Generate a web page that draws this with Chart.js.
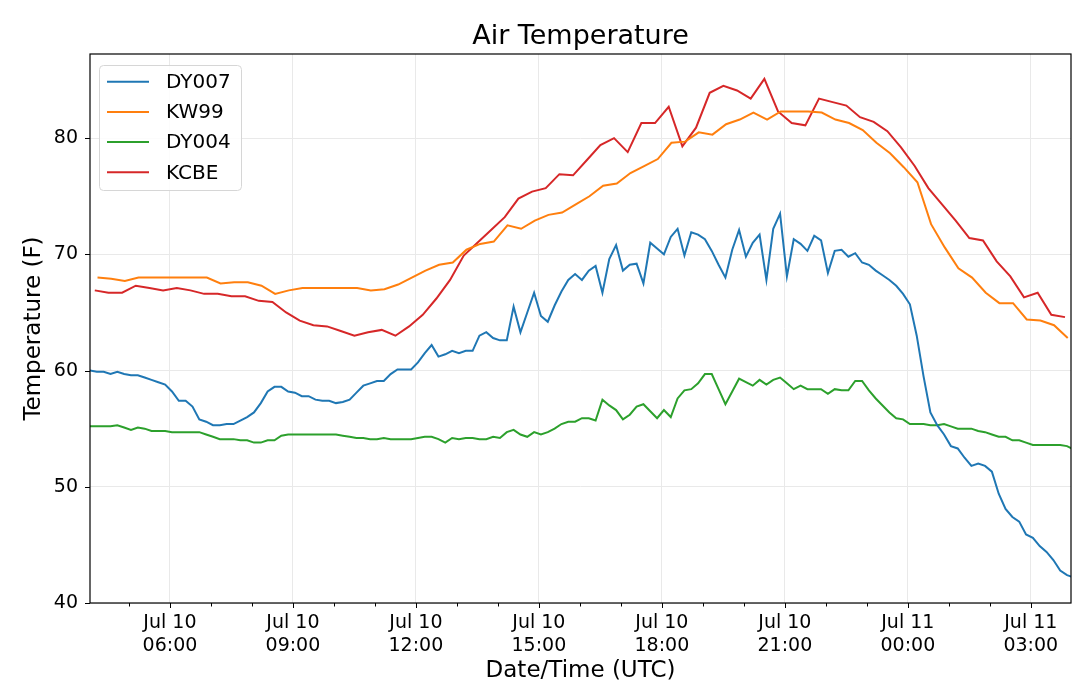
<!DOCTYPE html>
<html>
<head>
<meta charset="utf-8">
<title>Air Temperature</title>
<script src="https://cdn.jsdelivr.net/npm/chart.js@4.4.0/dist/chart.umd.min.js"></script>
<style>
html, body { margin: 0; padding: 0; background: #fff; }
#wrap { width: 1079px; height: 687px; }
</style>
</head>
<body>
<div id="wrap"><canvas id="chart" width="1079" height="687"></canvas></div>
<script>
// Station readings (deg F).
// Times are minutes after Jul 10 00:00 UTC: first reading + fixed interval.
var dy007Start = 243, dy007Step = 10;
var dy007Temps = [
    60.0, 59.9, 59.9, 59.7, 59.9, 59.7, 59.6, 59.6, 59.4, 59.2,
    59.0, 58.8, 58.2, 57.4, 57.4, 56.9, 55.8, 55.6, 55.3, 55.3,
    55.4, 55.4, 55.7, 56.0, 56.4, 57.2, 58.2, 58.6, 58.6, 58.2,
    58.1, 57.8, 57.8, 57.5, 57.4, 57.4, 57.2, 57.3, 57.5, 58.1,
    58.7, 58.9, 59.1, 59.1, 59.7, 60.1, 60.1, 60.1, 60.7, 61.5,
    62.2, 61.2, 61.4, 61.7, 61.5, 61.7, 61.7, 63.0, 63.3, 62.8,
    62.6, 62.6, 65.5, 63.3, 65.0, 66.7, 64.7, 64.2, 65.6, 66.8,
    67.8, 68.3, 67.8, 68.6, 69.0, 66.7, 69.6, 70.8, 68.6, 69.1,
    69.2, 67.5, 71.0, 70.5, 70.0, 71.5, 72.2, 69.9, 71.9, 71.7,
    71.3, 70.3, 69.1, 68.0, 70.4, 72.1, 69.8, 71.0, 71.7, 67.8,
    72.2, 73.5, 68.1, 71.3, 70.9, 70.3, 71.6, 71.2, 68.4, 70.3,
    70.4, 69.8, 70.1, 69.3, 69.1, 68.6, 68.2, 67.8, 67.3, 66.6,
    65.7, 63.0, 59.5, 56.4, 55.3, 54.5, 53.5, 53.3, 52.5, 51.8,
    52.0, 51.8, 51.3, 49.4, 48.1, 47.4, 47.0, 45.9, 45.6, 44.9,
    44.4, 43.7, 42.8, 42.4, 42.2
];

var kw99Start = 254, kw99Step = 20;
var kw99Temps = [
    68.0, 67.9, 67.7, 68.0, 68.0, 68.0, 68.0, 68.0, 68.0, 67.5,
    67.6, 67.6, 67.3, 66.6, 66.9, 67.1, 67.1, 67.1, 67.1, 67.1,
    66.9, 67.0, 67.4, 68.0, 68.6, 69.1, 69.3, 70.4, 70.9, 71.1,
    72.5, 72.2, 72.9, 73.4, 73.6, 74.3, 75.0, 75.9, 76.1, 77.0,
    77.6, 78.2, 79.6, 79.7, 80.5, 80.3, 81.2, 81.6, 82.2, 81.6,
    82.3, 82.3, 82.3, 82.2, 81.6, 81.3, 80.7, 79.6, 78.7, 77.5,
    76.2, 72.6, 70.6, 68.8, 68.0, 66.7, 65.8, 65.8, 64.4, 64.3,
    63.9, 62.8
];

var dy004Start = 243, dy004Step = 10;
var dy004Temps = [
    55.2, 55.2, 55.2, 55.2, 55.3, 55.1, 54.9, 55.1, 55.0, 54.8,
    54.8, 54.8, 54.7, 54.7, 54.7, 54.7, 54.7, 54.5, 54.3, 54.1,
    54.1, 54.1, 54.0, 54.0, 53.8, 53.8, 54.0, 54.0, 54.4, 54.5,
    54.5, 54.5, 54.5, 54.5, 54.5, 54.5, 54.5, 54.4, 54.3, 54.2,
    54.2, 54.1, 54.1, 54.2, 54.1, 54.1, 54.1, 54.1, 54.2, 54.3,
    54.3, 54.1, 53.8, 54.2, 54.1, 54.2, 54.2, 54.1, 54.1, 54.3,
    54.2, 54.7, 54.9, 54.5, 54.3, 54.7, 54.5, 54.7, 55.0, 55.4,
    55.6, 55.6, 55.9, 55.9, 55.7, 57.5, 57.0, 56.6, 55.8, 56.2,
    56.9, 57.1, 56.5, 55.9, 56.6, 56.0, 57.6, 58.3, 58.4, 58.9,
    59.7, 59.7, 58.4, 57.1, 58.2, 59.3, 59.0, 58.7, 59.2, 58.8,
    59.2, 59.4, 58.9, 58.4, 58.7, 58.4, 58.4, 58.4, 58.0, 58.4,
    58.3, 58.3, 59.1, 59.1, 58.3, 57.6, 57.0, 56.4, 55.9, 55.8,
    55.4, 55.4, 55.4, 55.3, 55.3, 55.4, 55.2, 55.0, 55.0, 55.0,
    54.8, 54.7, 54.5, 54.3, 54.3, 54.0, 54.0, 53.8, 53.6, 53.6,
    53.6, 53.6, 53.6, 53.5, 53.2
];

var kcbeStart = 250, kcbeStep = 20;
var kcbeTemps = [
    66.9, 66.7, 66.7, 67.3, 67.1, 66.9, 67.1, 66.9, 66.6, 66.6,
    66.4, 66.4, 66.0, 65.9, 65.0, 64.3, 63.9, 63.8, 63.4, 63.0,
    63.3, 63.5, 63.0, 63.8, 64.8, 66.2, 67.8, 69.9, 71.0, 72.1,
    73.2, 74.8, 75.4, 75.7, 76.9, 76.8, 78.1, 79.4, 80.0, 78.8,
    81.3, 81.3, 82.7, 79.3, 80.9, 83.9, 84.5, 84.1, 83.4, 85.1,
    82.3, 81.3, 81.1, 83.4, 83.1, 82.8, 81.8, 81.4, 80.6, 79.2,
    77.6, 75.7, 74.3, 72.9, 71.4, 71.2, 69.4, 68.1, 66.3, 66.7,
    64.8, 64.6
];

var stationNames = ['DY007', 'KW99', 'DY004', 'KCBE'];
var stationColors = ['#1f77b4', '#ff7f0e', '#2ca02c', '#d62728'];

// Axis setup: hours after Jul 10 00:00 UTC
var xMinHour = 4.05, xMaxHour = 27.98;
var xTickHours = [5, 6, 7, 8, 9, 10, 11, 12, 13, 14, 15, 16, 17, 18, 19, 20, 21, 22, 23, 24, 25, 26, 27];
var yTicks = [40, 50, 60, 70, 80];
var yMin = 40, yMax = 87.24;
var chartTitle = 'Air Temperature';

var fontFamily = '"DejaVu Sans", "Liberation Sans", sans-serif';
var gridColor = '#e9e9e9';

function toPoints(startMin, stepMin, temps) {
    var pts = [];
    for (var i = 0; i < temps.length; i++) {
        pts.push({ x: (startMin + i * stepMin) / 60, y: temps[i] });
    }
    return pts;
}

function pad2(n) {
    return (n < 10 ? '0' : '') + n;
}

function hourLabel(h) {
    var day = 10 + Math.floor(h / 24);
    return ['Jul ' + day, pad2(h % 24) + ':00'];
}

var series = [
    toPoints(dy007Start, dy007Step, dy007Temps),
    toPoints(kw99Start, kw99Step, kw99Temps),
    toPoints(dy004Start, dy004Step, dy004Temps),
    toPoints(kcbeStart, kcbeStep, kcbeTemps)
];

var datasets = [];
for (var s = 0; s < series.length; s++) {
    datasets.push({
        label: stationNames[s],
        data: series[s],
        borderColor: stationColors[s],
        backgroundColor: stationColors[s],
        borderWidth: 2,
        pointRadius: 0,
        tension: 0,
        fill: false
    });
}

// Title, axes frame, tick marks and in-plot legend (matplotlib style)
var decorations = {
    id: 'decorations',
    afterDraw: function(chart) {
        var ctx = chart.ctx,
            area = chart.chartArea,
            xScale = chart.scales.x,
            yScale = chart.scales.y;
        ctx.save();

        ctx.fillStyle = '#000';
        ctx.font = '27px ' + fontFamily;
        ctx.textAlign = 'center';
        ctx.textBaseline = 'middle';
        ctx.fillText(chartTitle, (area.left + area.right) / 2, 37);

        // tick marks
        ctx.strokeStyle = '#000';
        ctx.lineWidth = 1;
        ctx.beginPath();
        xScale.ticks.forEach(function(t) {
            var px = Math.round(xScale.getPixelForValue(t.value)) + 0.5;
            var len = t.value % 3 === 0 ? 5 : 3.5;
            ctx.moveTo(px, area.bottom);
            ctx.lineTo(px, area.bottom + len);
        });
        yScale.ticks.forEach(function(t) {
            var py = Math.round(yScale.getPixelForValue(t.value)) + 0.5;
            ctx.moveTo(area.left, py);
            ctx.lineTo(area.left - 5, py);
        });
        ctx.stroke();

        // frame
        ctx.lineWidth = 1.2;
        ctx.strokeRect(area.left, area.top, area.right - area.left, area.bottom - area.top);

        // legend
        var lx = area.left + 9.5, ly = area.top + 11.5, lw = 142, lh = 125;
        ctx.beginPath();
        ctx.roundRect(lx, ly, lw, lh, 4);
        ctx.fillStyle = 'rgba(255,255,255,0.85)';
        ctx.fill();
        ctx.strokeStyle = '#d6d6d6';
        ctx.lineWidth = 1;
        ctx.stroke();

        ctx.font = '20px ' + fontFamily;
        ctx.textAlign = 'left';
        ctx.textBaseline = 'middle';
        chart.data.datasets.forEach(function(ds, i) {
            var rowY = area.top + 27.7 + i * 30.2;
            ctx.strokeStyle = ds.borderColor;
            ctx.lineWidth = 2;
            ctx.beginPath();
            ctx.moveTo(area.left + 17, rowY);
            ctx.lineTo(area.left + 59, rowY);
            ctx.stroke();
            ctx.fillStyle = '#000';
            ctx.fillText(ds.label, area.left + 76, rowY + 1);
        });

        ctx.restore();
    }
};

var chart = new Chart(document.getElementById('chart'), {
    type: 'line',
    data: { datasets: datasets },
    plugins: [decorations],
    options: {
        responsive: false,
        animation: false,
        layout: { padding: { top: 54, right: 8, left: 0, bottom: 0 } },
        plugins: {
            legend: { display: false },
            title: { display: false },
            tooltip: { enabled: false }
        },
        scales: {
            x: {
                type: 'linear',
                min: xMinHour,
                max: xMaxHour,
                afterBuildTicks: function(scale) {
                    scale.ticks = xTickHours.map(function(h) { return { value: h }; });
                },
                afterFit: function(scale) { scale.height = 84; },
                grid: {
                    drawTicks: false,
                    color: function(c) {
                        return c.tick && c.tick.value % 3 === 0 ? gridColor : 'rgba(0,0,0,0)';
                    }
                },
                border: { display: false },
                ticks: {
                    autoSkip: false,
                    maxRotation: 0,
                    padding: 9,
                    color: '#000',
                    font: { family: fontFamily, size: 19 },
                    callback: function(value) {
                        return value % 3 === 0 ? hourLabel(value) : '';
                    }
                },
                title: {
                    display: true,
                    text: 'Date/Time (UTC)',
                    color: '#000',
                    font: { family: fontFamily, size: 23 },
                    padding: { top: 0, bottom: 2 }
                }
            },
            y: {
                min: yMin,
                max: yMax,
                afterBuildTicks: function(scale) {
                    scale.ticks = yTicks.map(function(v) { return { value: v }; });
                },
                afterFit: function(scale) { scale.width = 90; },
                grid: { drawTicks: false, color: gridColor },
                border: { display: false },
                ticks: {
                    padding: 12,
                    color: '#000',
                    font: { family: fontFamily, size: 19 }
                },
                title: {
                    display: true,
                    text: 'Temperature (F)',
                    color: '#000',
                    font: { family: fontFamily, size: 23 },
                    padding: { top: 20, bottom: 0 }
                }
            }
        }
    }
});
</script>
</body>
</html>
